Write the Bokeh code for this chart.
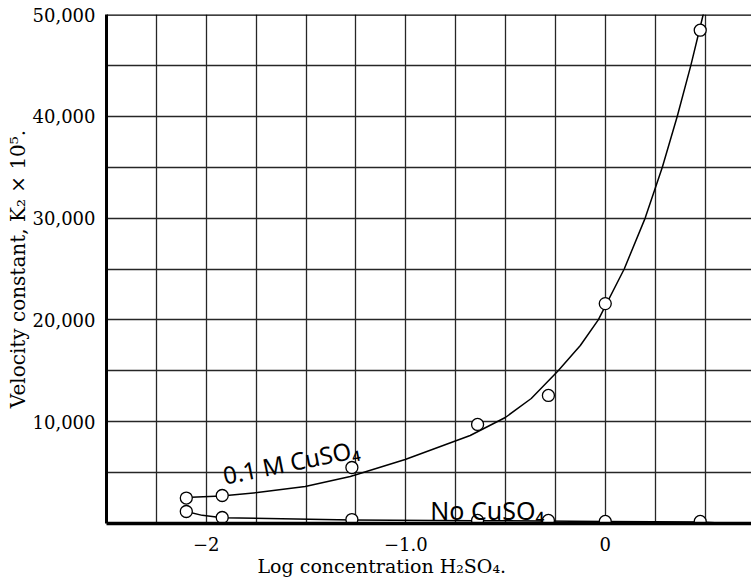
import numpy as np
from bokeh.plotting import figure
from bokeh.models import FixedTicker, Span, Title
from bokeh.embed import file_html
from bokeh.resources import INLINE
from bokeh.core.properties import value

# ---------------- data ----------------
log_conc = [-2.10, -1.92, -1.27, -0.64, -0.285, 0.0, 0.476]
k2_with_cuso4 = [2500, 2750, 5500, 9730, 12580, 21600, 48460]
k2_no_cuso4 = [1180, 590, 390, 300, 300, 200, 200]

# hand-drawn smooth curves through the points
curve_cuso4_x = [-2.105, -1.925, -1.744, -1.504, -1.278, -1.003, -0.677, -0.501,
                 -0.371, -0.236, -0.125, -0.035, 0.095, 0.200, 0.286, 0.361,
                 0.429, 0.491, 0.501]
curve_cuso4_y = [2554, 2701, 3045, 3635, 4617, 6287, 8644, 10412,
                 12279, 15000, 17485, 20000, 25000, 30000, 35000, 40000,
                 45000, 50000, 50800]
curve_none_x = [-2.10, -2.02, -1.92, -1.27, -0.64, 0.0, 0.476, 0.55]
curve_none_y = [1180, 800, 560, 350, 280, 200, 150, 80]

x_ticks = [-2, -1, 0]
x_tick_labels = ["\u22122", "\u22121.0", "0"]
y_ticks = [10000, 20000, 30000, 40000, 50000]
y_tick_labels = ["10,000", "20,000", "30,000", "40,000", "50,000"]

x_label = "Log concentration H\u2082SO\u2084."
y_label = "Velocity constant, K\u2082 \u00d7 10\u2075."
series_label_1 = "0.1 M CuSO\u2084"
series_label_2 = "No CuSO\u2084"

SERIF = "DejaVu Serif"

# ---------------- figure ----------------
p = figure(width=751, height=579, x_range=(-2.5, 0.733), y_range=(0, 50000),
           output_backend="svg", toolbar_location=None,
           min_border_left=106, min_border_right=0, min_border_top=14,
           min_border_bottom=56, background_fill_color="white",
           border_fill_color="white")
p.outline_line_color = None

p.xgrid.ticker = FixedTicker(ticks=list(np.arange(-2.25, 0.74, 0.25)))
p.ygrid.ticker = FixedTicker(ticks=list(range(5000, 50000, 5000)))
for g in (p.xgrid, p.ygrid):
    g.grid_line_color = "#262626"
    g.grid_line_width = 1.3

xa = p.xaxis[0]
xa.ticker = FixedTicker(ticks=x_ticks)
xa.major_label_overrides = {float(t): l for t, l in zip(x_ticks, x_tick_labels)}
xa.axis_line_width = 3.5
xa.axis_line_color = "black"
xa.major_tick_line_color = None
xa.minor_tick_line_color = None
xa.major_label_text_font = SERIF
xa.major_label_text_font_size = "18px"
xa.major_label_text_color = "black"
xa.major_label_standoff = 7

ya = p.yaxis[0]
ya.ticker = FixedTicker(ticks=y_ticks)
ya.major_label_overrides = {float(t): l for t, l in zip(y_ticks, y_tick_labels)}
ya.axis_line_width = 3
ya.axis_line_color = "black"
ya.major_tick_line_color = None
ya.minor_tick_line_color = None
ya.major_label_text_font = SERIF
ya.major_label_text_font_size = "18px"
ya.major_label_text_color = "black"
ya.major_label_standoff = 5
ya.axis_label = y_label
ya.axis_label_text_font = SERIF
ya.axis_label_text_font_size = "20px"
ya.axis_label_text_font_style = "normal"
ya.axis_label_text_color = "black"
ya.axis_label_standoff = 0

# top border line
p.add_layout(Span(location=50000, dimension="width", line_color="black", line_width=2.5))

# x axis title (below the tick labels, slightly left of the frame centre)
p.add_layout(Title(text=x_label, align="left", offset=151, standoff=0,
                   text_font=SERIF, text_font_size="19px", text_font_style="normal",
                   text_color="black", vertical_align="middle"), "below")

# curves
p.line(curve_cuso4_x, curve_cuso4_y, line_color="black", line_width=1.5,
       line_join="round")
p.line(curve_none_x, curve_none_y, line_color="black", line_width=1.5,
       line_join="round")

# points
p.scatter(log_conc, k2_with_cuso4, size=12, marker="circle", fill_color="white",
          line_color="black", line_width=1.3)
p.scatter(log_conc, k2_no_cuso4, size=12, marker="circle", fill_color="white",
          line_color="black", line_width=1.3)

# series labels
p.text(x=[-1.915], y=[4718], text=[series_label_1], angle=0.2,
       text_font=value("Noto Sans"), text_font_size="24px", text_color="black",
       text_baseline="alphabetic", text_align="left")
p.text(x=[-0.877], y=[1278], text=[series_label_2],
       text_font=value("Noto Sans"), text_font_size="25px", text_color="black",
       text_baseline="alphabetic", text_align="left")

open("out.html", "w").write(file_html(p, INLINE))
